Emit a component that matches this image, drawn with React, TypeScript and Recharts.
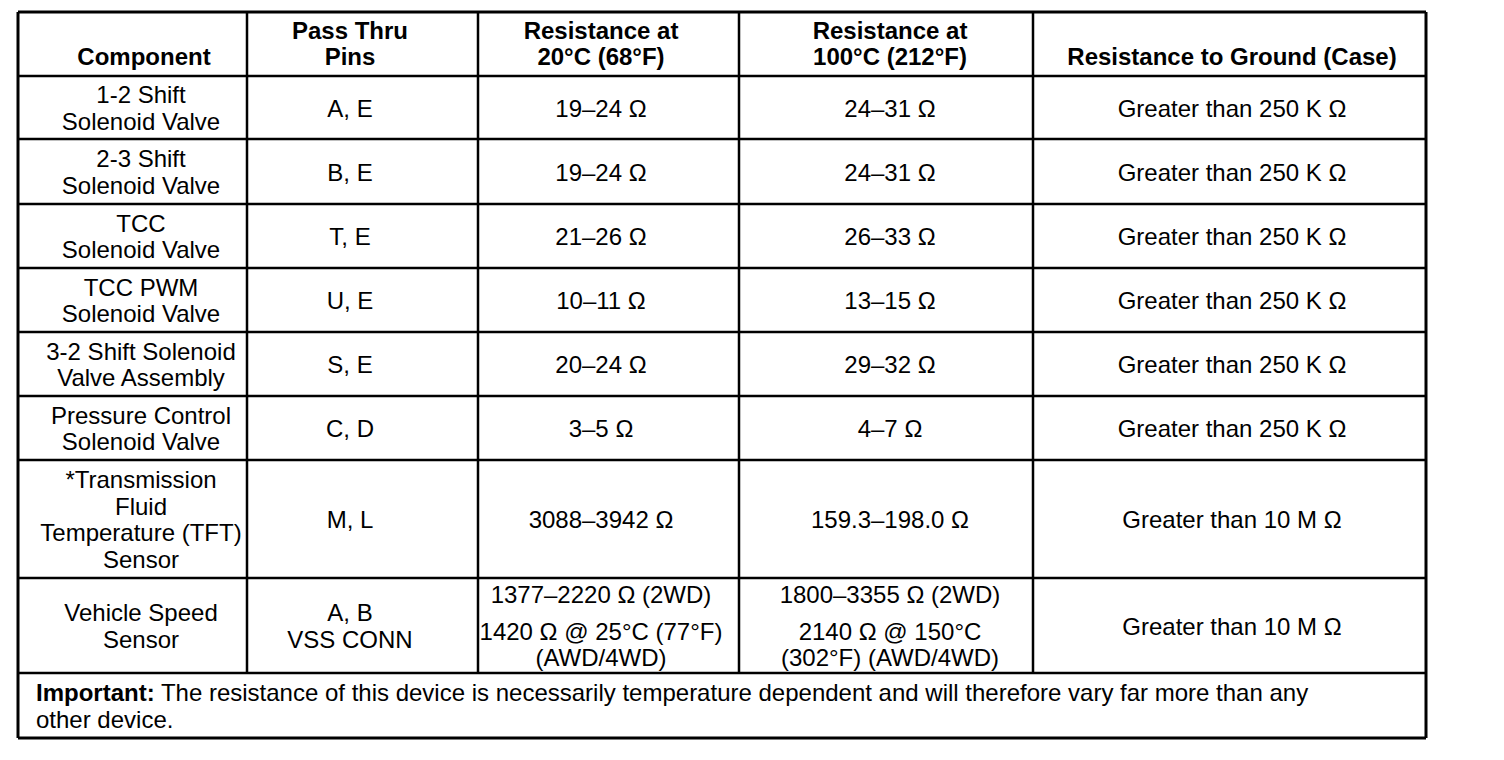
import React from "react";
import { ScatterChart, Scatter, XAxis, YAxis, ReferenceLine } from "recharts";

const W = 1504;
const H = 760;

// table content
const headers = [
  ["Component"],
  ["Pass Thru", "Pins"],
  ["Resistance at", "20°C (68°F)"],
  ["Resistance at", "100°C (212°F)"],
  ["Resistance to Ground (Case)"],
];
const components = [
  ["1-2 Shift", "Solenoid Valve"],
  ["2-3 Shift", "Solenoid Valve"],
  ["TCC", "Solenoid Valve"],
  ["TCC PWM", "Solenoid Valve"],
  ["3-2 Shift Solenoid", "Valve Assembly"],
  ["Pressure Control", "Solenoid Valve"],
  ["*Transmission", "Fluid", "Temperature (TFT)", "Sensor"],
  ["Vehicle Speed", "Sensor"],
];
const pins = [["A, E"], ["B, E"], ["T, E"], ["U, E"], ["S, E"], ["C, D"], ["M, L"], ["A, B", "VSS CONN"]];
// "" marks a small paragraph gap
const res20C = [
  ["19–24 Ω"],
  ["19–24 Ω"],
  ["21–26 Ω"],
  ["10–11 Ω"],
  ["20–24 Ω"],
  ["3–5 Ω"],
  ["3088–3942 Ω"],
  ["1377–2220 Ω (2WD)", "", "1420 Ω @ 25°C (77°F)", "(AWD/4WD)"],
];
const res100C = [
  ["24–31 Ω"],
  ["24–31 Ω"],
  ["26–33 Ω"],
  ["13–15 Ω"],
  ["29–32 Ω"],
  ["4–7 Ω"],
  ["159.3–198.0 Ω"],
  ["1800–3355 Ω (2WD)", "", "2140 Ω @ 150°C", "(302°F) (AWD/4WD)"],
];
const resGround = [
  ["Greater than 250 K Ω"],
  ["Greater than 250 K Ω"],
  ["Greater than 250 K Ω"],
  ["Greater than 250 K Ω"],
  ["Greater than 250 K Ω"],
  ["Greater than 250 K Ω"],
  ["Greater than 10 M Ω"],
  ["Greater than 10 M Ω"],
];
const noteLabel = "Important:";
const noteLines = [
  "The resistance of this device is necessarily temperature dependent and will therefore vary far more than any",
  "other device.",
];

// layout (pixels)
const colEdges = [18, 247, 478, 739, 1033, 1426];
const colCenters = [141, 350, 601, 890, 1232];
const rowEdges = [12, 76, 139, 204, 268, 332, 396, 460, 578, 673, 738];
const LH = 26.5;
const GAP = 10;
const FONT = '"Liberation Sans", Arial, Helvetica, sans-serif';

type TextPt = { x: number; y: number; text: string; bold?: boolean; anchor?: string; prefix?: string };

const cellLines = (lines: string[], x: number, center: number, bold = false): TextPt[] => {
  const n = lines.filter((l) => l !== "").length;
  const gaps = lines.length - n;
  const total = (n - 1) * LH + gaps * GAP;
  let y = center - total / 2;
  const out: TextPt[] = [];
  lines.forEach((l, i) => {
    if (l === "") {
      y += GAP;
      return;
    }
    out.push({ x, y, text: l, bold });
    if (i < lines.length - 1) y += LH;
  });
  return out;
};

const buildText = (): TextPt[] => {
  const pts: TextPt[] = [];
  headers.forEach((h, c) => {
    h.forEach((l, i) => {
      pts.push({ x: colCenters[c] + (c === 0 ? 3 : 0), y: rowEdges[1] - 20 - (h.length - 1 - i) * LH, text: l, bold: true });
    });
  });
  const cols = [components, pins, res20C, res100C, resGround];
  components.forEach((_, r) => {
    const center = (rowEdges[r + 1] + rowEdges[r + 2]) / 2;
    cols.forEach((col, c) => {
      pts.push(...cellLines(col[r], colCenters[c], center));
    });
  });
  pts.push({ x: 36, y: 692, text: " " + noteLines[0], prefix: noteLabel, anchor: "start" });
  pts.push({ x: 36, y: 719, text: noteLines[1], anchor: "start" });
  return pts;
};

const textData = buildText();

const TextShape = (props: any) => {
  const { cx, cy, payload } = props;
  return (
    <text
      x={cx}
      y={cy}
      textAnchor={payload.anchor || "middle"}
      dominantBaseline="central"
      fontFamily={FONT}
      fontSize={24}
      fontWeight={payload.bold ? "bold" : "normal"}
      fill="#000"
    >
      {payload.prefix && <tspan fontWeight="bold">{payload.prefix}</tspan>}
      <tspan>{payload.text}</tspan>
    </text>
  );
};

const tableBottom = rowEdges[rowEdges.length - 2];

const App: React.FC = () => {
  const left = colEdges[0];
  const right = colEdges[colEdges.length - 1];
  const top = rowEdges[0];
  const bottom = rowEdges[rowEdges.length - 1];
  return (
    <div style={{ position: "absolute", left: 0, top: 0, width: W, height: H, background: "#fff" }}>
      <ScatterChart width={W} height={H} margin={{ top: 0, right: 0, bottom: 0, left: 0 }}>
        <XAxis type="number" dataKey="x" domain={[0, W]} hide allowDataOverflow />
        <YAxis type="number" dataKey="y" domain={[0, H]} reversed hide allowDataOverflow />
        {rowEdges.slice(1, -1).map((y, i) => (
          <ReferenceLine
            key={`h-${i}`}
            segment={[{ x: left, y }, { x: right, y }]}
            stroke="#000"
            strokeWidth={2.5}
          />
        ))}
        {colEdges.slice(1, -1).map((x, i) => (
          <ReferenceLine
            key={`v-${i}`}
            segment={[{ x, y: top }, { x, y: tableBottom }]}
            stroke="#000"
            strokeWidth={2.5}
          />
        ))}
        <ReferenceLine segment={[{ x: left, y: top }, { x: right, y: top }]} stroke="#000" strokeWidth={3} />
        <ReferenceLine segment={[{ x: left, y: bottom }, { x: right, y: bottom }]} stroke="#000" strokeWidth={3} />
        <ReferenceLine segment={[{ x: left, y: top }, { x: left, y: bottom }]} stroke="#000" strokeWidth={3} />
        <ReferenceLine segment={[{ x: right, y: top }, { x: right, y: bottom }]} stroke="#000" strokeWidth={3} />
        <Scatter data={textData} shape={<TextShape />} isAnimationActive={false} />
      </ScatterChart>
    </div>
  );
};

export default App;
